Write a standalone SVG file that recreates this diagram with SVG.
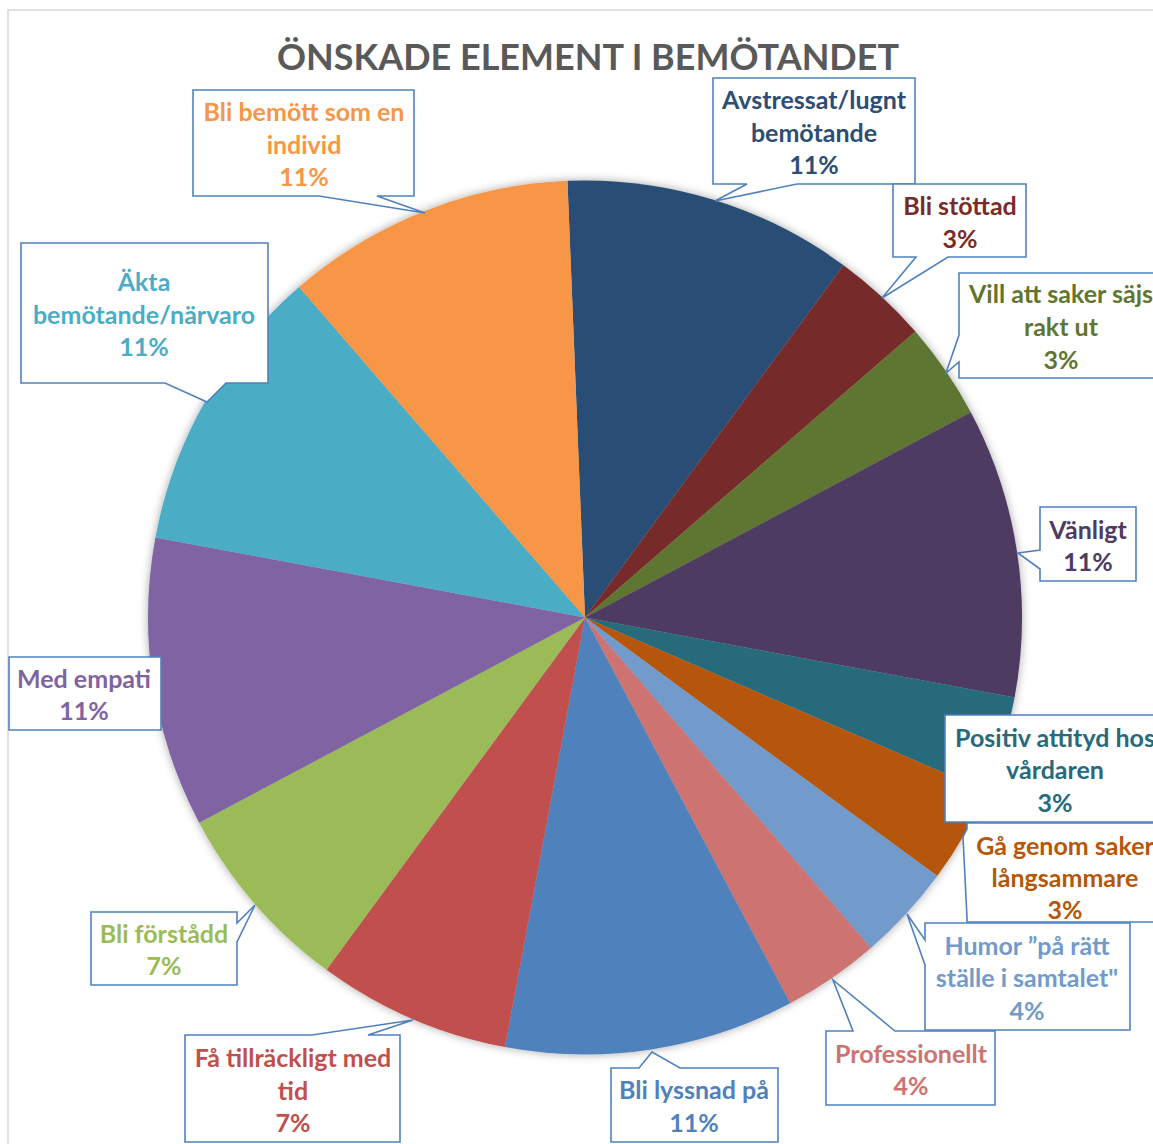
<svg xmlns="http://www.w3.org/2000/svg" width="1153" height="1144" viewBox="0 0 1153 1144">
<defs>
<filter id="sh" x="-10%" y="-10%" width="120%" height="120%">
<feGaussianBlur in="SourceAlpha" stdDeviation="5"/>
<feComponentTransfer><feFuncA type="linear" slope="0.35"/></feComponentTransfer>
<feMerge><feMergeNode/><feMergeNode in="SourceGraphic"/></feMerge>
</filter>
</defs>
<style>
.box{fill:#fff;stroke:#4F81BD;stroke-width:1.6;stroke-linejoin:miter}
.lbl{font-family:Lato,"Liberation Sans",sans-serif;font-weight:bold;font-size:25px;text-anchor:middle}
.title{font-family:Lato,"Liberation Sans",sans-serif;font-weight:bold;font-size:36px;fill:#595959;text-anchor:middle}
</style>
<rect width="1153" height="1144" fill="#fff"/>
<path d="M8,1144 V10 H1153" fill="none" stroke="#D9D9D9" stroke-width="1.5"/>
<text class="title" x="588" y="70" textLength="622" lengthAdjust="spacingAndGlyphs">ÖNSKADE ELEMENT I BEMÖTANDET</text>
<g id="pie" filter="url(#sh)">
<path id="s-avstressat" fill="#2C4D75" d="M585,617.5 L567.46,180.85 A437,437 0 0 1 843.52,265.17 Z"/>
<path id="s-stottad" fill="#772C2A" d="M585,617.5 L843.52,265.17 A437,437 0 0 1 915.39,331.47 Z"/>
<path id="s-vill" fill="#5F7530" d="M585,617.5 L915.39,331.47 A437,437 0 0 1 970.81,412.26 Z"/>
<path id="s-vanligt" fill="#4D3B62" d="M585,617.5 L970.81,412.26 A437,437 0 0 1 1014.60,697.58 Z"/>
<path id="s-positiv" fill="#276A7C" d="M585,617.5 L1014.60,697.58 A437,437 0 0 1 986.02,791.15 Z"/>
<path id="s-ga" fill="#B65708" d="M585,617.5 L986.02,791.15 A437,437 0 0 1 937.26,876.11 Z"/>
<path id="s-humor" fill="#729ACA" d="M585,617.5 L937.26,876.11 A437,437 0 0 1 870.97,947.94 Z"/>
<path id="s-prof" fill="#CD7371" d="M585,617.5 L870.97,947.94 A437,437 0 0 1 790.24,1003.31 Z"/>
<path id="s-lyssnad" fill="#4F81BD" d="M585,617.5 L790.24,1003.31 A437,437 0 0 1 504.92,1047.10 Z"/>
<path id="s-tid" fill="#C0504D" d="M585,617.5 L504.92,1047.10 A437,437 0 0 1 326.48,969.83 Z"/>
<path id="s-forstadd" fill="#9BBB59" d="M585,617.5 L326.48,969.83 A437,437 0 0 1 199.19,822.74 Z"/>
<path id="s-empati" fill="#8064A2" d="M585,617.5 L199.19,822.74 A437,437 0 0 1 155.40,537.42 Z"/>
<path id="s-akta" fill="#4BACC6" d="M585,617.5 L155.40,537.42 A437,437 0 0 1 299.03,287.06 Z"/>
<path id="s-bemott" fill="#F79646" d="M585,617.5 L299.03,287.06 A437,437 0 0 1 567.46,180.85 Z"/>
</g>
<g id="labels">
<g id="l-bemott">
<path class="box" d="M193,90 H414 V196 H377 L425,213 L319,196 H193 Z"/>
<text class="lbl" fill="#F79646"><tspan x="304" y="121">Bli bemött som en</tspan><tspan x="304" y="154">individ</tspan><tspan x="304" y="186">11%</tspan></text>
</g>
<g id="l-avstressat">
<path class="box" d="M713,78 H915 V184 H797 L715,201 L747,184 H713 Z"/>
<text class="lbl" fill="#2C4D75"><tspan x="814" y="109">Avstressat/lugnt</tspan><tspan x="814" y="142">bemötande</tspan><tspan x="814" y="174">11%</tspan></text>
</g>
<g id="l-stottad">
<path class="box" d="M893,184 H1026 V257 H948 L882,298 L916,257 H893 Z"/>
<text class="lbl" fill="#772C2A"><tspan x="960" y="215">Bli stöttad</tspan><tspan x="960" y="248">3%</tspan></text>
</g>
<g id="l-vill">
<path class="box" d="M959,273 H1165 V378 H959 V362 L946,373 L959,335 Z"/>
<text class="lbl" fill="#5F7530"><tspan x="1061" y="303">Vill att saker säjs</tspan><tspan x="1061" y="336">rakt ut</tspan><tspan x="1061" y="369">3%</tspan></text>
</g>
<g id="l-vanligt">
<path class="box" d="M1040,507 H1136 V581 H1040 V569 L1018,553 L1040,550 Z"/>
<text class="lbl" fill="#4D3B62"><tspan x="1088" y="539">Vänligt</tspan><tspan x="1088" y="571">11%</tspan></text>
</g>
<g id="l-ga">
<path class="box" d="M967,823 H1165 V922 H967 V918 L963,837 L967,829 Z"/>
<text class="lbl" fill="#B65708"><tspan x="1065" y="855">Gå genom saker</tspan><tspan x="1065" y="887">långsammare</tspan><tspan x="1065" y="919">3%</tspan></text>
</g>
<g id="l-positiv">
<path class="box" d="M945,715 H1165 V822 H945 Z"/>
<text class="lbl" fill="#276A7C"><tspan x="1055" y="747">Positiv attityd hos</tspan><tspan x="1055" y="779">vårdaren</tspan><tspan x="1055" y="812">3%</tspan></text>
</g>
<g id="l-humor">
<path class="box" d="M925,923 H1130 V1030 H925 V965 L907,914 L925,940 Z"/>
<text class="lbl" fill="#729ACA"><tspan x="1027" y="955">Humor ”på rätt</tspan><tspan x="1027" y="987">ställe i samtalet"</tspan><tspan x="1027" y="1020">4%</tspan></text>
</g>
<g id="l-prof">
<path class="box" d="M826,1031 H853 L833,980 L895,1031 H995 V1105 H826 Z"/>
<text class="lbl" fill="#CD7371"><tspan x="911" y="1063">Professionellt</tspan><tspan x="911" y="1095">4%</tspan></text>
</g>
<g id="l-lyssnad">
<path class="box" d="M611,1068 H639 L652,1052 L680,1068 H778 V1142 H611 Z"/>
<text class="lbl" fill="#4F81BD"><tspan x="694" y="1099">Bli lyssnad på</tspan><tspan x="694" y="1132">11%</tspan></text>
</g>
<g id="l-tid">
<path class="box" d="M185,1035 H312 L413,1020 L368,1035 H400 V1142 H185 Z"/>
<text class="lbl" fill="#C0504D"><tspan x="293" y="1067">Få tillräckligt med</tspan><tspan x="293" y="1100">tid</tspan><tspan x="293" y="1132">7%</tspan></text>
</g>
<g id="l-forstadd">
<path class="box" d="M91,912 H237 V923 L255,905 L237,942 V985 H91 Z"/>
<text class="lbl" fill="#9BBB59"><tspan x="164" y="943">Bli förstådd</tspan><tspan x="164" y="975">7%</tspan></text>
</g>
<g id="l-empati">
<path class="box" d="M9,657 H161 V730 H9 Z"/>
<text class="lbl" fill="#8064A2"><tspan x="84" y="688">Med empati</tspan><tspan x="84" y="720">11%</tspan></text>
</g>
<g id="l-akta">
<path class="box" d="M21,243 H268 V383 H226 L207,402 L165,383 H21 Z"/>
<text class="lbl" fill="#4BACC6"><tspan x="144" y="291">Äkta</tspan><tspan x="144" y="324">bemötande/närvaro</tspan><tspan x="144" y="356">11%</tspan></text>
</g>
</g>
</svg>
